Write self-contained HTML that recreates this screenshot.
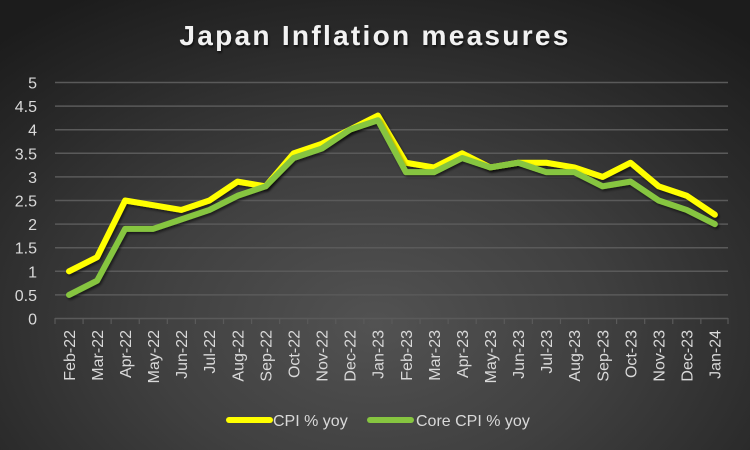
<!DOCTYPE html>
<html><head><meta charset="utf-8"><style>
html,body{margin:0;padding:0;}
body{width:750px;height:450px;overflow:hidden;background:radial-gradient(ellipse 75% 85% at 50% 72%,#525252 0%,#404040 40%,#2a2a2a 75%,#1c1c1c 100%);}
svg{display:block;font-family:"Liberation Sans",sans-serif;}
</style></head><body>
<svg width="750" height="450" viewBox="0 0 750 450" xmlns="http://www.w3.org/2000/svg">
<defs>
<filter id="sh" x="-10%" y="-10%" width="120%" height="130%"><feDropShadow dx="1.5" dy="2" stdDeviation="1.2" flood-color="#000" flood-opacity="0.55"/></filter>
<filter id="tsh" x="-5%" y="-20%" width="110%" height="150%"><feDropShadow dx="1" dy="2" stdDeviation="1" flood-color="#000" flood-opacity="0.6"/></filter>
</defs>
<text x="375" y="45" text-anchor="middle" font-size="28" font-weight="bold" fill="#f2f2f2" letter-spacing="2.3" filter="url(#tsh)">Japan Inflation measures</text>
<g stroke="#5a5a5a" stroke-width="1.5">
<line x1="55" x2="728" y1="82.5" y2="82.5"/>
<line x1="55" x2="728" y1="106.1" y2="106.1"/>
<line x1="55" x2="728" y1="129.7" y2="129.7"/>
<line x1="55" x2="728" y1="153.3" y2="153.3"/>
<line x1="55" x2="728" y1="176.9" y2="176.9"/>
<line x1="55" x2="728" y1="200.5" y2="200.5"/>
<line x1="55" x2="728" y1="224.1" y2="224.1"/>
<line x1="55" x2="728" y1="247.7" y2="247.7"/>
<line x1="55" x2="728" y1="271.3" y2="271.3"/>
<line x1="55" x2="728" y1="294.9" y2="294.9"/>
<line x1="55" x2="728" y1="318.5" y2="318.5"/>
</g>
<g stroke="#5a5a5a" stroke-width="1.2">
<line x1="55" x2="55" y1="318" y2="324"/><line x1="83.08" x2="83.08" y1="318" y2="324"/><line x1="111.16" x2="111.16" y1="318" y2="324"/><line x1="139.24" x2="139.24" y1="318" y2="324"/><line x1="167.32" x2="167.32" y1="318" y2="324"/><line x1="195.4" x2="195.4" y1="318" y2="324"/><line x1="223.48" x2="223.48" y1="318" y2="324"/><line x1="251.56" x2="251.56" y1="318" y2="324"/><line x1="279.64" x2="279.64" y1="318" y2="324"/><line x1="307.72" x2="307.72" y1="318" y2="324"/><line x1="335.8" x2="335.8" y1="318" y2="324"/><line x1="363.88" x2="363.88" y1="318" y2="324"/><line x1="391.96" x2="391.96" y1="318" y2="324"/><line x1="420.04" x2="420.04" y1="318" y2="324"/><line x1="448.12" x2="448.12" y1="318" y2="324"/><line x1="476.2" x2="476.2" y1="318" y2="324"/><line x1="504.28" x2="504.28" y1="318" y2="324"/><line x1="532.36" x2="532.36" y1="318" y2="324"/><line x1="560.44" x2="560.44" y1="318" y2="324"/><line x1="588.52" x2="588.52" y1="318" y2="324"/><line x1="616.6" x2="616.6" y1="318" y2="324"/><line x1="644.68" x2="644.68" y1="318" y2="324"/><line x1="672.76" x2="672.76" y1="318" y2="324"/><line x1="700.84" x2="700.84" y1="318" y2="324"/><line x1="728" x2="728" y1="318" y2="324"/>
</g>
<g font-size="16" fill="#d9d9d9" text-anchor="end">
<text x="37" y="88.5">5</text>
<text x="37" y="112.1">4.5</text>
<text x="37" y="135.7">4</text>
<text x="37" y="159.3">3.5</text>
<text x="37" y="182.9">3</text>
<text x="37" y="206.5">2.5</text>
<text x="37" y="230.1">2</text>
<text x="37" y="253.7">1.5</text>
<text x="37" y="277.3">1</text>
<text x="37" y="300.9">0.5</text>
<text x="37" y="324.5">0</text>
</g>
<g font-size="16" fill="#d9d9d9" text-anchor="end">
<text transform="translate(74.8,330) rotate(-90)">Feb-22</text>
<text transform="translate(102.9,330) rotate(-90)">Mar-22</text>
<text transform="translate(131,330) rotate(-90)">Apr-22</text>
<text transform="translate(159,330) rotate(-90)">May-22</text>
<text transform="translate(187.1,330) rotate(-90)">Jun-22</text>
<text transform="translate(215.2,330) rotate(-90)">Jul-22</text>
<text transform="translate(243.3,330) rotate(-90)">Aug-22</text>
<text transform="translate(271.4,330) rotate(-90)">Sep-22</text>
<text transform="translate(299.4,330) rotate(-90)">Oct-22</text>
<text transform="translate(327.5,330) rotate(-90)">Nov-22</text>
<text transform="translate(355.6,330) rotate(-90)">Dec-22</text>
<text transform="translate(383.7,330) rotate(-90)">Jan-23</text>
<text transform="translate(411.8,330) rotate(-90)">Feb-23</text>
<text transform="translate(439.8,330) rotate(-90)">Mar-23</text>
<text transform="translate(467.9,330) rotate(-90)">Apr-23</text>
<text transform="translate(496,330) rotate(-90)">May-23</text>
<text transform="translate(524.1,330) rotate(-90)">Jun-23</text>
<text transform="translate(552.2,330) rotate(-90)">Jul-23</text>
<text transform="translate(580.2,330) rotate(-90)">Aug-23</text>
<text transform="translate(608.3,330) rotate(-90)">Sep-23</text>
<text transform="translate(636.4,330) rotate(-90)">Oct-23</text>
<text transform="translate(664.5,330) rotate(-90)">Nov-23</text>
<text transform="translate(692.6,330) rotate(-90)">Dec-23</text>
<text transform="translate(720.6,330) rotate(-90)">Jan-24</text>
</g>
<polyline filter="url(#sh)" fill="none" stroke="#ffff00" stroke-width="6" stroke-linejoin="round" stroke-linecap="round" points="69,271.3 97.08,257.14 125.16,200.5 153.24,205.22 181.32,209.94 209.4,200.5 237.48,181.62 265.56,186.34 293.64,153.3 321.72,143.86 349.8,129.7 377.88,115.54 405.96,162.74 434.04,167.46 462.12,153.3 490.2,167.46 518.28,162.74 546.36,162.74 574.44,167.46 602.52,176.9 630.6,162.74 658.68,186.34 686.76,195.78 714.84,214.66"/>
<polyline filter="url(#sh)" fill="none" stroke="#86c540" stroke-width="6" stroke-linejoin="round" stroke-linecap="round" points="69,294.9 97.08,280.74 125.16,228.82 153.24,228.82 181.32,219.38 209.4,209.94 237.48,195.78 265.56,186.34 293.64,158.02 321.72,148.58 349.8,129.7 377.88,120.26 405.96,172.18 434.04,172.18 462.12,158.02 490.2,167.46 518.28,162.74 546.36,172.18 574.44,172.18 602.52,186.34 630.6,181.62 658.68,200.5 686.76,209.94 714.84,224.1"/>
<line x1="229" x2="270" y1="420" y2="420" stroke="#ffff00" stroke-width="6" stroke-linecap="round"/>
<text x="273" y="426" font-size="16" fill="#d9d9d9">CPI % yoy</text>
<line x1="370" x2="411" y1="420" y2="420" stroke="#86c540" stroke-width="6" stroke-linecap="round"/>
<text x="416" y="426" font-size="16" fill="#d9d9d9">Core CPI % yoy</text>
</svg>
</body></html>
